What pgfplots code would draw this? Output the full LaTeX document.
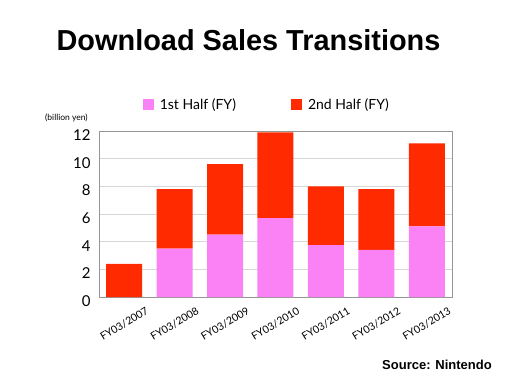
\documentclass[border=0pt]{standalone}
\usepackage{fontspec}
\setmainfont{Lato}
\newfontfamily\titlefont{Liberation Sans}
\usepackage{pgfplots}
\pgfplotsset{compat=1.18}
\definecolor{pinkbar}{RGB}{250,130,245}
\definecolor{redbar}{RGB}{255,42,0}
\definecolor{gridc}{RGB}{215,215,215}
\definecolor{framec}{RGB}{150,150,150}
\begin{document}
\begin{tikzpicture}
\useasboundingbox[fill=white] (0,0) rectangle (506pt,383pt);
\node[font=\titlefont\bfseries\fontsize{28.9}{32}\selectfont, anchor=center] at (248.5pt,343pt) {Download Sales Transitions};
\node[font=\fontsize{8.5}{10}\selectfont, anchor=west, inner sep=0pt] at (45pt,265pt) {(billion yen)};
\node[font=\titlefont\bfseries\fontsize{13}{15}\selectfont, anchor=west, inner sep=0pt] at (382pt,18pt) {Source: Nintendo};
\begin{axis}[
  at={(99pt,86pt)}, anchor=south west,
  width=353pt, height=166pt, scale only axis,
  ybar stacked, bar width=36pt,
  xmin=-0.5, xmax=6.5, ymin=0, ymax=12,
  xtick={0,1,2,3,4,5,6},
  xticklabels={FY03/2007,FY03/2008,FY03/2009,FY03/2010,FY03/2011,FY03/2012,FY03/2013},
  ytick={0,2,4,6,8,10,12},
  major tick length=0pt,
  ymajorgrids, grid style={gridc, line width=0.8pt},
  axis line style={framec, line width=0.8pt},
  /pgf/number format/assume math mode=true,
  yticklabel style={font=\fontsize{15}{17}\selectfont, anchor=east, xshift=-5pt, yshift=-4pt},
  xticklabel style={font=\fontsize{10.5}{12}\selectfont, yshift=-27pt, rotate=31, anchor=center, inner sep=1pt},
  legend columns=2,
  legend style={draw=none, fill=none, at={(0.115,1.16)}, anchor=west, font=\fontsize{14}{16}\selectfont,
    /tikz/every odd column/.append style={column sep=4pt},
    /tikz/every even column/.append style={column sep=53pt}},
  legend image code/.code={\fill[#1] (0pt,-5.5pt) rectangle (11pt,5.5pt);},
]
\addplot[fill=pinkbar, draw=none] coordinates {(0,0) (1,3.5) (2,4.5) (3,5.7) (4,3.75) (5,3.4) (6,5.1)};
\addplot[fill=redbar, draw=none] coordinates {(0,2.4) (1,4.3) (2,5.1) (3,6.2) (4,4.25) (5,4.4) (6,6.0)};
\legend{1st Half (FY),2nd Half (FY)}
\node[font=\bfseries\fontsize{7}{8}\selectfont, text=white, align=center, inner sep=0pt] at (axis cs:6,10.4) {through\\Q3};
\end{axis}
\end{tikzpicture}
\end{document}
